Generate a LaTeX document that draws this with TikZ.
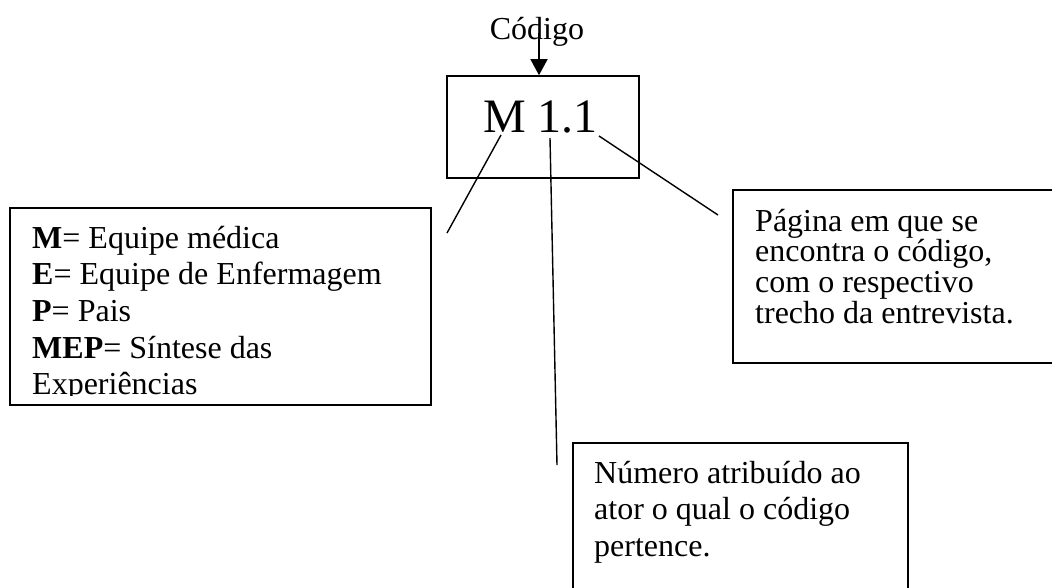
\documentclass[tikz,border=0pt]{standalone}
\usepackage{fontspec}
\setmainfont{Liberation Serif}
\usetikzlibrary{arrows.meta}

\tikzset{
  box/.style={draw, rectangle, line width=1.6pt, inner sep=0pt},
  boxtext/.style={anchor=base west, align=left, inner sep=0pt},
  leader/.style={line width=1.4pt},
}

\begin{document}
\begin{tikzpicture}[x=1pt, y=-1pt]
\clip (0,0) rectangle (1052,587);

\node[box, minimum width=192pt, minimum height=102pt] (code) at (543,127) {};
\node[anchor=base, inner sep=0pt, font=\fontsize{48}{48}\selectfont] (codetext) at (540.5,132) {M 1.1};
\node[anchor=base, inner sep=0pt, font=\fontsize{32}{32}\selectfont] (codigo) at (537,39) {Código};

\node[box, minimum width=421pt, minimum height=197pt] (legend) at (220.5,306.5) {};
\node[box, minimum width=329pt, minimum height=173pt] (page) at (897.5,276.5) {};
\node[box, minimum width=335pt, minimum height=157pt] (actor) at (740.5,521.5) {};

% the base anchor sits on the last line of each text
\begin{scope}
\clip (10,208) rectangle (431,395.5);
\node[boxtext, font=\fontsize{32}{36.7}\selectfont] (legendtext) at (32,394.8)
  {\textbf{M}= Equipe médica\\ \textbf{E}= Equipe de Enfermagem\\ \textbf{P}= Pais\\
   \textbf{MEP}= Síntese das\\ Experiências};
\end{scope}
\node[boxtext, font=\fontsize{32}{30.8}\selectfont] (pagetext) at (755,323.4)
  {Página em que se\\ encontra o código,\\ com o respectivo\\ trecho da entrevista.};
\node[boxtext, font=\fontsize{32}{36.7}\selectfont] (actortext) at (594,556.4)
  {Número atribuído ao\\ ator o qual o código\\ pertence.};

\coordinate (mfoot)     at (501,135);
\coordinate (legendend) at (447,233);
\coordinate (onefoot)   at (550,138);
\coordinate (actorend)  at (557,465);
\coordinate (lastone)   at (599,136);
\coordinate (pageend)   at (718,215);

\draw[leader, -{Triangle[length=16pt, width=17pt]}] ([xshift=2pt, yshift=6pt]codigo.base) -- ([xshift=2pt]codigo.base |- code.north);

\draw[leader] (mfoot) -- (legendend);
\draw[leader] (onefoot) -- (actorend);
\draw[leader] (lastone) -- (pageend);

\end{tikzpicture}
\end{document}
